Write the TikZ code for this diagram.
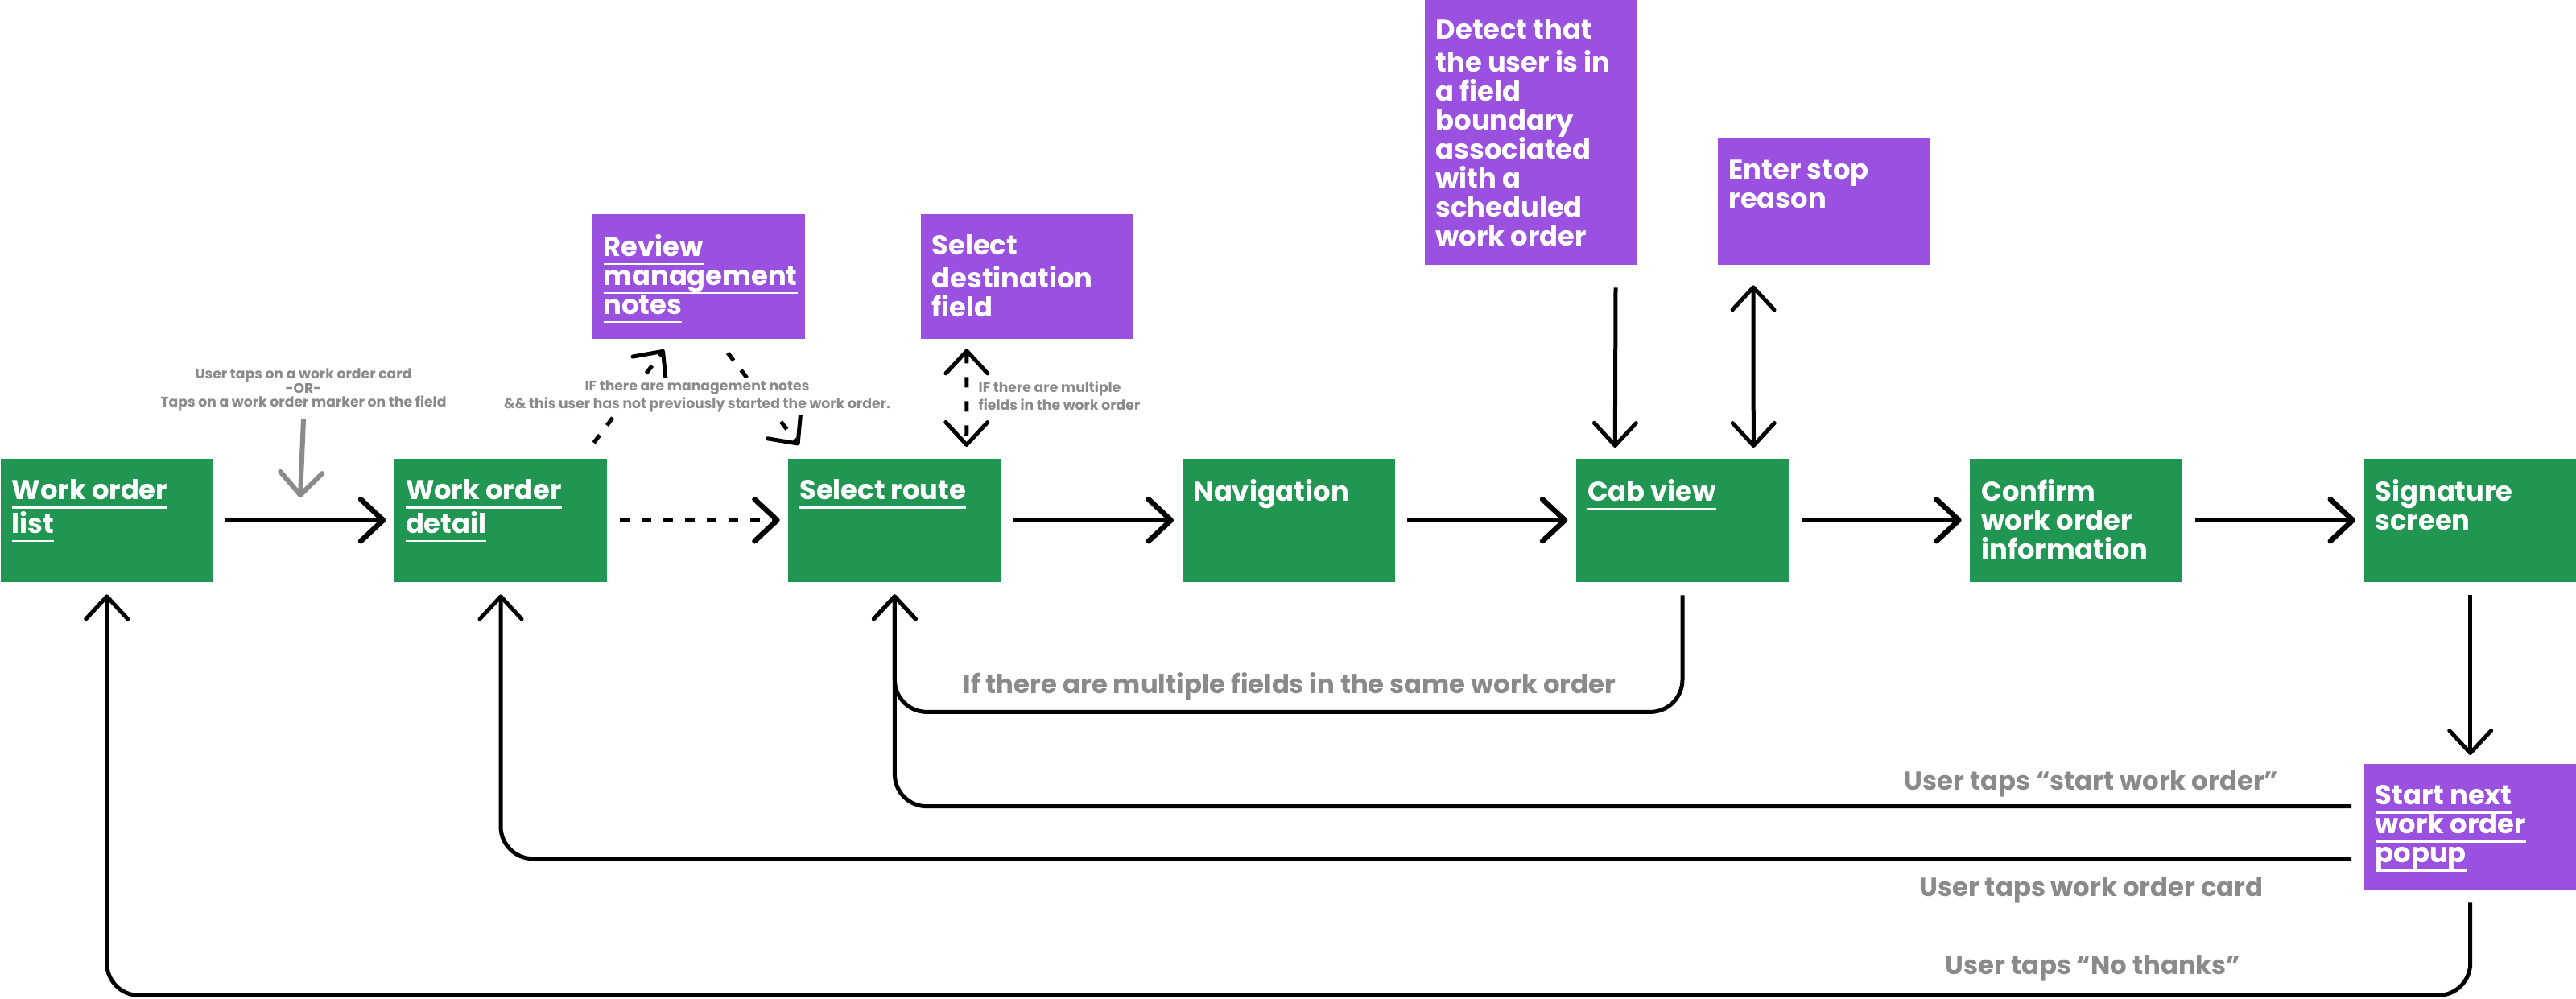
\documentclass[tikz,border=0pt]{standalone}
\usepackage{fontspec}
\setmainfont{Poppins}
\usetikzlibrary{arrows.meta}

\definecolor{wogreen}{HTML}{219653}
\definecolor{wopurple}{HTML}{9B51E0}
\definecolor{wogray}{HTML}{8A8A8A}

% underlined screen name (one line)
\newcommand{\lnk}[1]{\leavevmode\setbox0\hbox{#1}\rlap{\rule[-0.11cm]{\wd0}{0.025cm}}\box0}
% text of a box, set at its top left corner
\newcommand{\boxtxt}[2][1.53cm]{\parbox[c][#1][t]{2.36cm}{\fontsize{9.6pt}{10.24pt}\selectfont\bfseries\raggedright\vspace*{7.3pt}\strut#2}}

\tikzset{
  screen/.style={rectangle, fill=wogreen, text=white, inner xsep=0.14cm, inner ysep=0pt, anchor=north west},
  action/.style={screen, fill=wopurple},
  flow/.style={->, line width=0.065cm, shorten <=0.15cm, shorten >=0.1cm},
  dotflow/.style={flow, dash pattern=on 0.12cm off 0.15cm},
  loopline/.style={->, line width=0.05cm, rounded corners=0.4cm, shorten >=0.15cm},
  note/.style={text=wogray, font=\fontsize{4.9pt}{5pt}\selectfont\bfseries, align=center, inner sep=0pt},
  looplabel/.style={text=wogray, font=\fontsize{9.2pt}{10pt}\selectfont\bfseries, inner sep=0pt, anchor=base}
}

\begin{document}
\begin{tikzpicture}[>={Straight Barb[length=0.28cm,width=0.52cm,line cap=round,line join=round]}]
    \useasboundingbox (0,0) rectangle (32,12.4);

    % Screens of the main flow.
    \node[screen] (list) at (0,6.71) {\boxtxt{\lnk{Work order}\\\lnk{list}}};
    \node[screen] (detail) at (4.893,6.71) {\boxtxt{\lnk{Work order}\\\lnk{detail}}};
    \node[screen] (route) at (9.787,6.71) {\boxtxt{\lnk{Select route}}};
    \node[screen] (nav) at (14.68,6.71) {\boxtxt{Navigation}};
    \node[screen] (cab) at (19.573,6.71) {\boxtxt{\lnk{Cab view}}};
    \node[screen] (confirm) at (24.467,6.71) {\boxtxt{Confirm\\work order\\information}};
    \node[screen] (sign) at (29.36,6.71) {\boxtxt{Signature\\screen}};

    % Side actions.
    \node[action] (notes) at (7.35,9.75) {\boxtxt[1.55cm]{\lnk{Review}\\\lnk{management}\\\lnk{notes}}};
    \node[action] (dest) at (11.43,9.75) {\boxtxt[1.55cm]{Select\\destination\\field}};
    \node[action] (detect) at (17.69,12.43) {\boxtxt[3.31cm]{Detect that\\the user is in\\a field\\boundary\\associated\\with a\\scheduled\\work order}};
    \node[action] (stop) at (21.33,10.69) {\boxtxt[1.57cm]{Enter stop\\reason}};
    \node[action] (popup) at (29.36,2.92) {\boxtxt[1.56cm]{\lnk{Start next}\\\lnk{work order}\\\lnk{popup}}};

    % Main flow, left to right.
    \draw[flow] (list.east) -- (detail.west);
    \draw[dotflow] (detail.east) -- (route.west);
    \draw[flow] (route.east) -- (nav.west);
    \draw[flow] (nav.east) -- (cab.west);
    \draw[flow] (cab.east) -- (confirm.west);
    \draw[flow] (confirm.east) -- (sign.west);

    % Entry into the detail screen.
    \node[note] (tapnote) at (3.77,7.56) {User taps on a work order card\\-OR-\\Taps on a work order marker on the field};
    \coordinate (tapend) at (3.73,6.22);
    \draw[->, wogray, line width=0.06cm] ([yshift=-0.1cm]tapnote.south) -- (tapend);

    % Management notes, only when there are any.
    \draw[->, line width=0.05cm, dash pattern=on 0.12cm off 0.15cm]
        ([xshift=-0.17cm,yshift=0.19cm]detail.north east) -- ([xshift=0.9cm,yshift=-0.13cm]notes.south west);
    \draw[->, line width=0.05cm, dash pattern=on 0.12cm off 0.15cm]
        ([xshift=1.69cm,yshift=-0.17cm]notes.south west) -- ([xshift=0.14cm,yshift=0.16cm]route.north west);
    \node[note, fill=white, inner sep=0.03cm] (notecond) at (8.66,7.48) {IF there are management notes\\\&\& this user has not previously started the work order.};

    % Destination field, only with several fields.
    \draw[<->, line width=0.05cm, dash pattern=on 0.13cm off 0.17cm]
        ([xshift=0.58cm,yshift=-0.12cm]dest.south west) -- ([xshift=2.22cm,yshift=0.14cm]route.north west);
    \node[note, align=left, anchor=west] (destcond) at (12.15,7.48) {IF there are multiple\\fields in the work order};

    % Into the cab view.
    \draw[->, line width=0.05cm] ([xshift=2.38cm,yshift=-0.28cm]detect.south west) -- ([xshift=0.49cm,yshift=0.13cm]cab.north west);
    \draw[<->, line width=0.05cm] ([xshift=0.45cm,yshift=-0.25cm]stop.south west) -- ([xshift=2.21cm,yshift=0.13cm]cab.north west);

    % Signature leads to the popup.
    \draw[->, line width=0.05cm, shorten >=0.1cm] ([yshift=-0.16cm]sign.south) -- (popup.north);

    % Loops back.
    \draw[loopline] ([yshift=-0.16cm]cab.south) -- ++(0,-1.45) -| (route.south);
    \draw[loopline, shorten <=0.15cm] ([yshift=0.25cm]popup.west) -| (route.south);
    \draw[loopline, shorten <=0.15cm] ([yshift=-0.4cm]popup.west) -| (detail.south);
    \draw[loopline] ([yshift=-0.16cm]popup.south) -- ++(0,-1.15) -| (list.south);

    % Labels of the loops.
    \node[looplabel] (samelbl) at (16.02,3.79) {If there are multiple fields in the same work order};
    \node[looplabel] (startlbl) at (25.98,2.59) {User taps “start work order”};
    \node[looplabel] (cardlbl) at (25.98,1.27) {User taps work order card};
    \node[looplabel] (nolbl) at (26.0,0.30) {User taps “No thanks”};
\end{tikzpicture}
\end{document}
